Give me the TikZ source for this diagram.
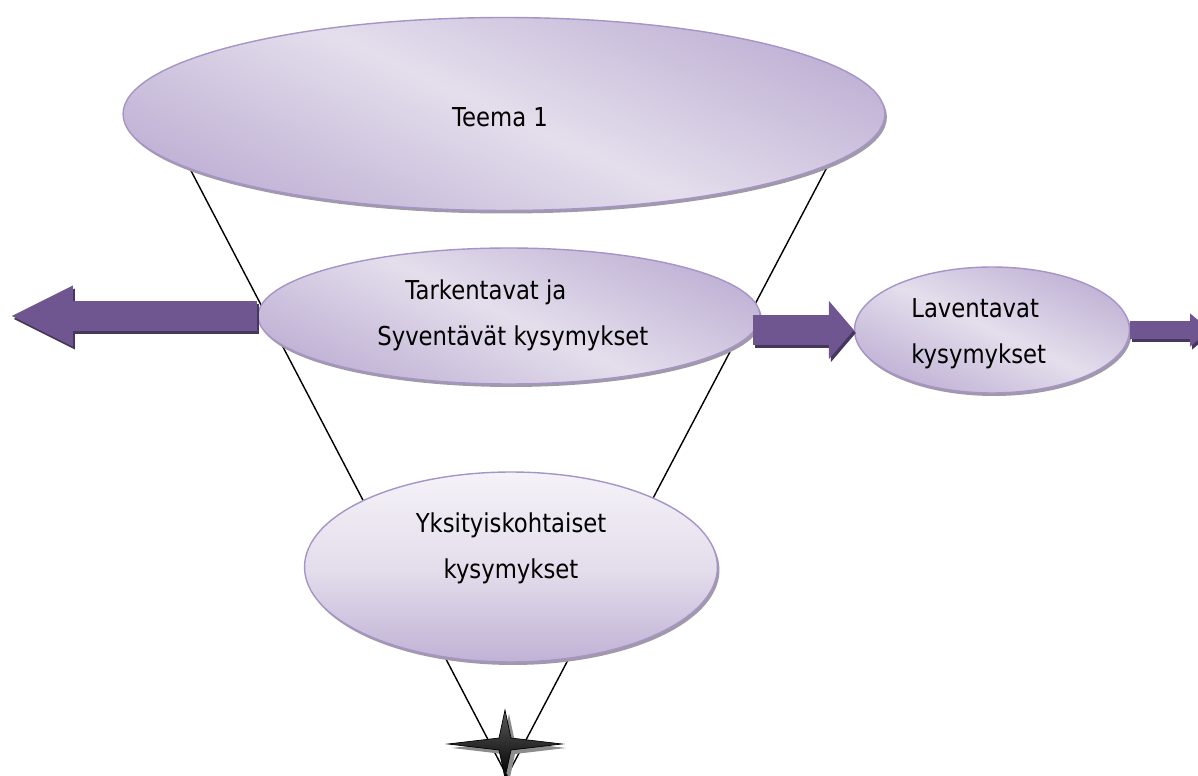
\documentclass[tikz,border=0pt]{standalone}
\usepackage{fontspec}
\setmainfont{DejaVu Sans}[FakeStretch=0.875]
\usepackage{tikz}
\usetikzlibrary{shapes.geometric, arrows.meta, shadows, calc, backgrounds}
\definecolor{BubbleLight}{RGB}{228,222,236}
\definecolor{BubbleDark}{RGB}{192,178,213}
\definecolor{BubbleEdge}{RGB}{166,148,200}
\definecolor{ShadowGray}{RGB}{160,154,168}
\definecolor{ArrowMid}{RGB}{112,86,144}
\definecolor{ArrowDark}{RGB}{70,55,92}
\definecolor{StarShadow}{RGB}{140,140,140}

\begin{document}
\begin{tikzpicture}[x=0.02cm, y=-0.02cm,
    bubble/.style={ellipse, inner sep=0pt, draw=BubbleEdge, line width=0.8pt,
      top color=BubbleDark, bottom color=BubbleDark, middle color=BubbleLight, shading angle=-25,
      drop shadow={shadow xshift=0.04cm, shadow yshift=-0.06cm, fill=ShadowGray, opacity=1}},
    txt/.style={font=\fontsize{14.8}{26}\selectfont, inner sep=0pt},
    fatarrow/.style={line width=0.6cm},
    funnel/.style={line width=0.8pt, draw=black}]
  \useasboundingbox (0,0) rectangle (1198,776);
  \def\starpath{(57,0) -- (6,-6) -- (0,-34) -- (-6,-6) -- (-57,0) -- (-6,6) -- (0,34) -- (6,6) -- cycle}
  % Bubbles
  \node[bubble, minimum width=15.24cm, minimum height=3.86cm] (teema) at (504,114) {};
  \node[bubble, minimum width=10.04cm, minimum height=2.72cm] (tark) at (509,316) {};
  \node[bubble, minimum width=5.5cm, minimum height=2.52cm] (lav) at (992,330) {};
  \node[bubble, minimum width=8.26cm, minimum height=3.8cm, top color=BubbleLight!40!white,
    bottom color=BubbleDark, middle color=BubbleLight] (yksi) at (511,567) {};
  % Texts
  \node[txt] (teemaText) at (500,117) {Teema 1};
  \node[txt, align=left, anchor=west] (tarkText) at (377,315) {\hspace*{16pt}Tarkentavat ja\\Syventävät kysymykset};
  \node[txt, align=left, anchor=west] (lavText) at (911,334) {Laventavat\\kysymykset};
  \node[txt, align=center] (yksiText) at (511,548) {Yksityiskohtaiset\\kysymykset};
  % Funnel lines
  \coordinate (apex) at (507,776);
  \begin{scope}[on background layer]
    \foreach \a in {190,351} {\draw[funnel] (teema.\a) -- (apex);}
  \end{scope}
  % Block arrows (dark copy first)
  \coordinate (leftend) at (10,316);
  \coordinate (rightend) at (1210,330);
  \foreach \col/\dx/\dy in {ArrowDark/0.04/-0.06, ArrowMid/0/0} {
    \begin{scope}[transform canvas={xshift=\dx cm, yshift=\dy cm}]
      \draw[fatarrow, draw=\col, -{Triangle[length=1.26cm, width=1.12cm]}] (tark.west) -- (leftend);
      \draw[fatarrow, draw=\col, -{Triangle[length=0.5cm, width=1.14cm]}] ($(tark.east |- lav.west)+(-8,0)$) -- (lav.west);
      \draw[line width=0.36cm, draw=\col, -{Triangle[length=0.4cm, width=0.64cm]}] (lav.east) -- (rightend);
    \end{scope}
  }
  % Star
  \coordinate (star) at (505,744);
  \begin{scope}[shift={(star)}]
    \fill[StarShadow, shift={(4,4)}] \starpath;
    \shade[top color=gray!70!black, bottom color=black, draw=black, line width=0.4pt] \starpath;
  \end{scope}
\end{tikzpicture}
\end{document}
